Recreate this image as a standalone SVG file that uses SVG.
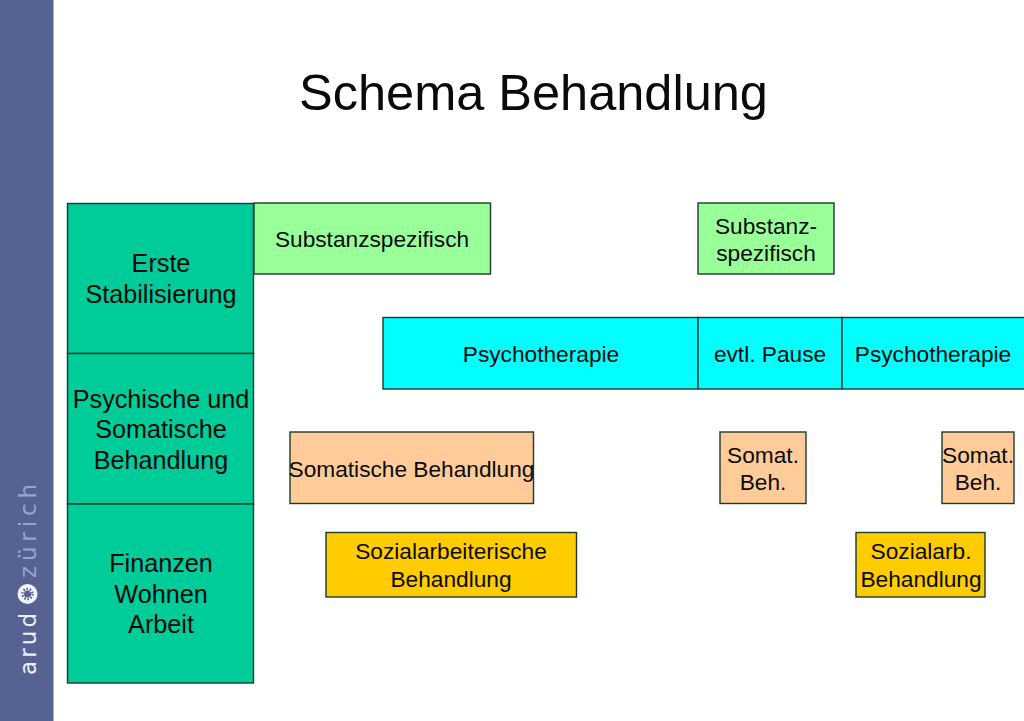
<svg xmlns="http://www.w3.org/2000/svg" width="1024" height="721" viewBox="0 0 1024 721">
<style>
text{font-family:"Liberation Sans",Arial,sans-serif;fill:#0a0a0a;text-anchor:middle}
.b{stroke:#1c3a2c;stroke-width:1.4}
.s{font-size:22.7px}
.m{font-size:25.2px}
.side{font-family:"DejaVu Sans",sans-serif;font-size:23px;text-anchor:start;letter-spacing:3px}
</style>
<rect width="1024" height="721" fill="#fff"/>
<g id="sidebar">
<rect width="53.500" height="721" fill="#566392"/>
<text class="side" transform="translate(36,675) rotate(-90)" style="fill:#eef0f6" textLength="65">arud</text>
<text class="side" transform="translate(36,578) rotate(-90)" style="fill:#9aa4c6" textLength="97">zürich</text>
<circle cx="27.500" cy="594" r="10" fill="#f4f5f9"/>
<circle cx="27.500" cy="594" r="3.500" fill="#566392"/>
<circle cx="27.500" cy="594" r="5" fill="none" stroke="#566392" stroke-width="2.500" stroke-dasharray="1.500 1.640"/>
</g>
<text id="title" x="533.500" y="110" font-size="50.500">Schema Behandlung</text>
<g id="erste"><rect class="b" x="67.500" y="203.500" width="186" height="150" fill="#00cc99"/><text class="m" x="161" y="272">Erste</text><text class="m" x="161" y="303">Stabilisierung</text></g>
<g id="psychische"><rect class="b" x="67.500" y="353.500" width="186" height="150.500" fill="#00cc99"/><text class="m" x="161" y="408">Psychische und</text><text class="m" x="161" y="438">Somatische</text><text class="m" x="161" y="469">Behandlung</text></g>
<g id="finanzen"><rect class="b" x="67.500" y="504" width="186" height="179" fill="#00cc99"/><text class="m" x="161" y="572">Finanzen</text><text class="m" x="161" y="603">Wohnen</text><text class="m" x="161" y="633">Arbeit</text></g>
<g id="subst1"><rect class="b" x="254" y="203" width="236.500" height="71" fill="#99ff99"/><text class="s" x="372" y="247">Substanzspezifisch</text></g>
<g id="subst2"><rect class="b" x="698" y="203" width="136" height="71" fill="#99ff99"/><text class="s" x="766" y="234">Substanz-</text><text class="s" x="766" y="261">spezifisch</text></g>
<g id="psy1"><rect class="b" x="383" y="317.500" width="315" height="71.500" fill="#00ffff"/><text class="s" x="541" y="362">Psychotherapie</text></g>
<g id="pause"><rect class="b" x="698" y="317.500" width="144" height="71.500" fill="#00ffff"/><text class="s" x="770" y="362">evtl. Pause</text></g>
<g id="psy2"><rect class="b" x="842" y="317.500" width="183" height="71.500" fill="#00ffff"/><text class="s" x="933" y="362">Psychotherapie</text></g>
<g id="som1"><rect class="b" x="290" y="432" width="243.500" height="71.500" fill="#ffcc99"/><text class="s" x="411.500" y="477">Somatische Behandlung</text></g>
<g id="som2"><rect class="b" x="720" y="432" width="86" height="71.500" fill="#ffcc99"/><text class="s" x="763" y="463">Somat.</text><text class="s" x="763" y="490">Beh.</text></g>
<g id="som3"><rect class="b" x="942" y="432" width="72" height="71.500" fill="#ffcc99"/><text class="s" x="978" y="463">Somat.</text><text class="s" x="978" y="490">Beh.</text></g>
<g id="soz1"><rect class="b" x="326" y="532.500" width="250.500" height="64.500" fill="#ffcc00"/><text class="s" x="451" y="559">Sozialarbeiterische</text><text class="s" x="451" y="587">Behandlung</text></g>
<g id="soz2"><rect class="b" x="856" y="532.500" width="129" height="64.500" fill="#ffcc00"/><text class="s" x="921" y="559">Sozialarb.</text><text class="s" x="921" y="587">Behandlung</text></g>
<g id="connectors"></g>
</svg>
